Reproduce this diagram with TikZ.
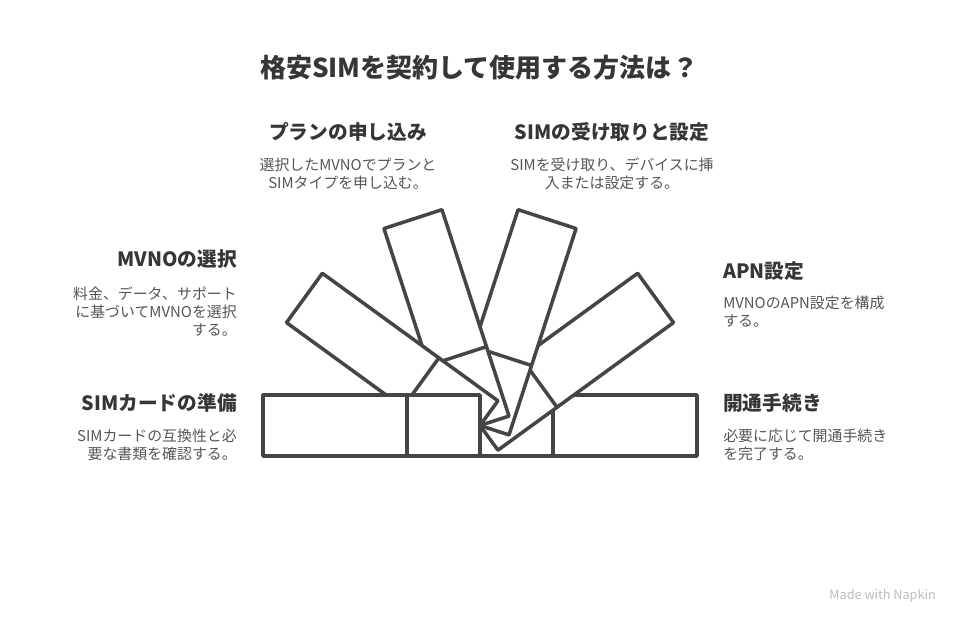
\documentclass[tikz,border=0pt]{standalone}
\usepackage{fontspec}
\setmainfont{Noto Sans CJK JP}
\definecolor{ink}{HTML}{454545}
\definecolor{headgray}{HTML}{363636}
\definecolor{bodygray}{HTML}{555555}
\definecolor{markgray}{HTML}{BBBBBB}
\begin{document}
\begin{tikzpicture}[x=0.025cm, y=0.025cm,
  blade/.style={draw=ink, fill=white, line width=2.5pt, line join=round},
  head/.style={text=headgray, inner sep=0pt, font=\fontsize{14}{17}\selectfont\bfseries},
  body/.style={text=bodygray, inner sep=0pt, font=\fontsize{10.6}{12.8}\selectfont}]
\def\px{480};
\def\py{198.5};
\def\blen{217};
\def\bcut{73};
\def\bwid{30.5};

\useasboundingbox (0,0) rectangle (960,624);

% fan of blades, drawn from the right one to the left one
\foreach \k in {5,4,...,0}{
  \begin{scope}[shift={(\px,\py)}, rotate=-36*\k]
    \draw[blade] (-\blen,-\bwid) rectangle (0,\bwid);
    \draw[blade] (-\bcut,-\bwid) -- (-\bcut,\bwid);
  \end{scope}
}

\node (title) [text=headgray, inner sep=0pt, font=\fontsize{18.5}{22}\selectfont\bfseries] at (479,556) {格安SIMを契約して使用する方法は？};

\node[head] (plan) at (348,492) {プランの申し込み};
\node[body, align=center] (plantxt) at (348,450) {選択したMVNOでプランと\\SIMタイプを申し込む。};

\node[head] (recv) at (612,492) {SIMの受け取りと設定};
\node[body, align=center] (recvtxt) at (612,450) {SIMを受け取り、デバイスに挿\\入または設定する。};

\node[head, anchor=east] (mvno) at (237,365) {MVNOの選択};
\node[body, align=right, anchor=east] (mvnotxt) at (237,312) {料金、データ、サポート\\に基づいてMVNOを選択\\する。};

\node[head, anchor=east] (card) at (237,221) {SIMカードの準備};
\node[body, align=right, anchor=east] (cardtxt) at (237,179) {SIMカードの互換性と必\\要な書類を確認する。};

\node[head, anchor=west] (apn) at (723,353) {APN設定};
\node[body, align=left, anchor=west] (apntxt) at (723,312) {MVNOのAPN設定を構成\\する。};

\node[head, anchor=west] (open) at (723,221) {開通手続き};
\node[body, align=left, anchor=west] (opentxt) at (723,179) {必要に応じて開通手続き\\を完了する。};

\node (mark) [anchor=east, inner sep=0pt, text=markgray, font=\fontsize{9}{11}\selectfont] at (936,28) {Made with Napkin};
\end{tikzpicture}
\end{document}
